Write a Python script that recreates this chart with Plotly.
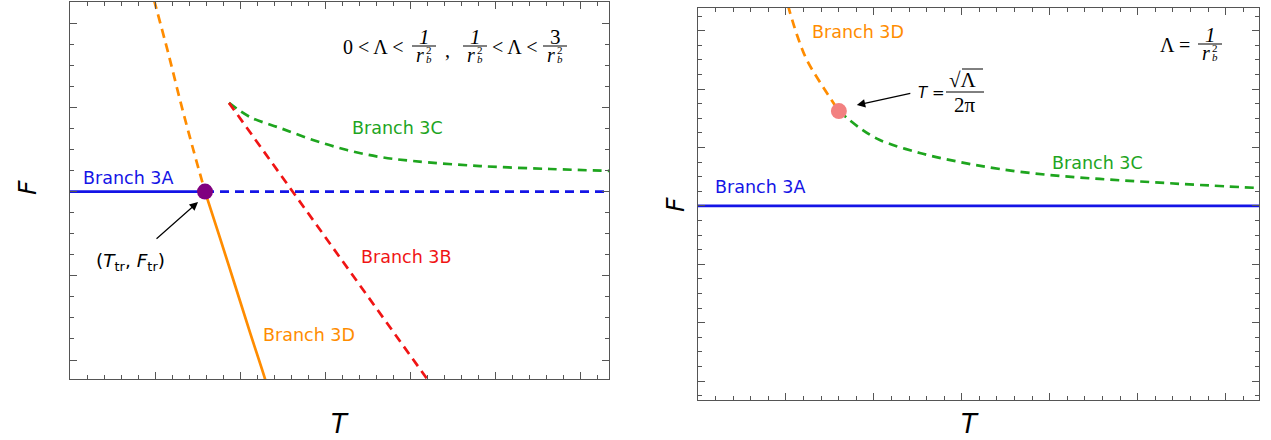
import plotly.graph_objects as go

W, H = 1271, 440

# ---------------- Left panel data ----------------
L_XMAX = 31.7
L_YRANGE = [0.1, 18.0]
T_tr, F_tr = 7.94, 9.0

l3A_solid_T = [0.0, T_tr]
l3A_solid_F = [F_tr, F_tr]
l3A_dash_T = [T_tr, L_XMAX]
l3A_dash_F = [F_tr, F_tr]

l3D_dash_T = [4.94, 5.76, 6.53, 7.24, 7.94]
l3D_dash_F = [18.10, 15.63, 13.16, 11.02, 9.0]
l3D_solid_T = [7.94, 8.82, 9.71, 10.59, 11.47, 11.6]
l3D_solid_F = [9.0, 6.80, 4.54, 2.30, 0.1, -0.3]

l3B_T = [9.35, 13.0, 17.0, 21.0, 21.2]
l3B_F = [13.21, 9.10, 4.60, 0.1, -0.12]

l3C_T = [9.35, 10.59, 12.35, 14.29, 16.29, 18.24, 20.18, 24.12, 28.24, 31.7]
l3C_F = [13.21, 12.54, 12.02, 11.45, 10.97, 10.64, 10.45, 10.21, 10.07, 9.98]

# ---------------- Right panel data ----------------
R_XMAX = 31.9
R_YRANGE = [-0.3, 26.55]
F3A_R = 13.0
T_c, F_c = 8.01, 19.49

r3A_T = [0.0, R_XMAX]
r3A_F = [F3A_R, F3A_R]
r3D_T = [5.11, 5.63, 6.19, 6.93, 8.01]
r3D_F = [26.75, 24.70, 22.99, 21.48, 19.49]
r3C_T = [8.01, 9.20, 10.34, 12.61, 14.89, 17.16, 20.0, 22.84, 25.68, 28.52, 31.9]
r3C_F = [19.49, 18.33, 17.51, 16.62, 16.0, 15.52, 15.11, 14.84, 14.63, 14.43, 14.22]

BLUE = "#1414e6"
ORANGE = "#ff8c00"
GREEN = "#1ea51e"
RED = "#f01414"
DASH = "9px,6px"
LW = 2.7

fig = go.Figure()

def line(T, F, color, dash=None, xa="x", ya="y", shape="linear"):
    fig.add_trace(go.Scatter(x=T, y=F, mode="lines", xaxis=xa, yaxis=ya,
                             line=dict(color=color, width=LW, dash=dash or "solid", shape=shape),
                             hoverinfo="skip", showlegend=False))

# left
line(l3A_solid_T, l3A_solid_F, BLUE)
line(l3A_dash_T, l3A_dash_F, BLUE, DASH)
line(l3C_T, l3C_F, GREEN, DASH, shape="spline")
line(l3B_T, l3B_F, RED, DASH)
line(l3D_dash_T, l3D_dash_F, ORANGE, DASH, shape="spline")
line(l3D_solid_T, l3D_solid_F, ORANGE, shape="spline")
fig.add_trace(go.Scatter(x=[T_tr], y=[F_tr], mode="markers", marker=dict(color="#800080", size=16),
                         showlegend=False, hoverinfo="skip"))

# right
line(r3A_T, r3A_F, BLUE, xa="x2", ya="y2")
line(r3D_T, r3D_F, ORANGE, DASH, xa="x2", ya="y2", shape="spline")
line(r3C_T, r3C_F, GREEN, DASH, xa="x2", ya="y2", shape="spline")
fig.add_trace(go.Scatter(x=[T_c], y=[F_c], mode="markers", marker=dict(color="#f28080", size=16),
                         xaxis="x2", yaxis="y2", showlegend=False, hoverinfo="skip"))

AX = "#555555"
def axis(domain, rng, dtick, tick0, anchor):
    return dict(domain=domain, range=rng, anchor=anchor, showgrid=False, zeroline=False,
                showline=True, linecolor=AX, linewidth=1, mirror="ticks",
                ticks="inside", ticklen=7, tickcolor=AX, tickwidth=1,
                dtick=dtick, tick0=tick0, showticklabels=False,
                minor=dict(dtick=1, tick0=0, ticks="inside", ticklen=4, tickcolor=AX, tickwidth=1, showgrid=False))

fig.update_layout(
    width=W, height=H, margin=dict(l=0, r=0, t=0, b=0),
    paper_bgcolor="white", plot_bgcolor="white", showlegend=False,
    xaxis=axis([70 / W, 609 / W], [0, L_XMAX], 5, 0, "y"),
    yaxis=axis([1 - 379 / H, 1 - 2 / H], L_YRANGE, 4, 1, "x"),
    xaxis2=axis([698 / W, 1259 / W], [0, R_XMAX], 5, 0, "y2"),
    yaxis2=axis([1 - 400 / H, 1 - 8 / H], R_YRANGE, 4, 1, "x2"),
)

anns = []
shapes = []
SANS = "DejaVu Sans"
SERIF = "Liberation Serif"

def label(text, T, F, color, xa, ya, size=17.5):
    anns.append(dict(text=text, x=T, y=F, xref=xa, yref=ya, showarrow=False,
                     font=dict(family=SANS, size=size, color=color)))

label("Branch 3A", 3.41, 9.64, BLUE, "x", "y")
label("Branch 3C", 19.24, 12.02, GREEN, "x", "y")
label("Branch 3B", 19.76, 5.89, RED, "x", "y")
label("Branch 3D", 14.06, 2.19, ORANGE, "x", "y")
label("(<i>T</i><sub>tr</sub>, <i>F</i><sub>tr</sub>)", 3.53, 5.66, "black", "x", "y", 18.5)
anns.append(dict(text="", x=7.53, y=8.50, xref="x", yref="y", ax=-43, ay=38,
                 showarrow=True, arrowhead=2, arrowsize=1.4, arrowwidth=1.2, arrowcolor="black"))

label("Branch 3D", 9.09, 24.91, ORANGE, "x2", "y2")
label("Branch 3C", 22.73, 15.93, GREEN, "x2", "y2")
label("Branch 3A", 3.52, 14.29, BLUE, "x2", "y2")
anns.append(dict(text="", x=9.03, y=19.9, xref="x2", yref="y2", ax=55, ay=-12,
                 showarrow=True, arrowhead=2, arrowsize=1.4, arrowwidth=1.2, arrowcolor="black"))

# pixel-positioned text helpers (formulas, axis titles)
def ptext(text, px, py, size, family=SERIF, xanchor="center", angle=0):
    anns.append(dict(text=text, x=px / W, y=1 - py / H, xref="paper", yref="paper",
                     showarrow=False, xanchor=xanchor, yanchor="middle", textangle=angle,
                     borderpad=0,
                     font=dict(family=family, size=size, color="black")))

def pline(x0, y0, x1, y1):
    shapes.append(dict(type="line", xref="paper", yref="paper", x0=x0 / W, x1=x1 / W,
                       y0=1 - y0 / H, y1=1 - y1 / H, line=dict(color="black", width=1)))

def frac_rb2(num, cx, ybar, half=12):
    pline(cx - half, ybar, cx + half, ybar)
    ptext(num, cx, ybar - 9, 21)
    ptext("<i>r</i>", cx - 4, ybar + 9, 20)
    ptext("2", cx + 5, ybar + 4, 11)
    ptext("<i>b</i>", cx + 5, ybar + 13, 11)

# left formula
ptext("0 < Λ <", 342, 47, 20, xanchor="left")
frac_rb2("<i>1</i>", 424, 46)
ptext(",", 447, 50, 20)
frac_rb2("<i>1</i>", 475, 46)
ptext("< Λ <", 514, 47, 20)
frac_rb2("3", 555, 46)

# right formula
ptext("Λ =", 1175, 45, 20)
frac_rb2("<i>1</i>", 1210, 44)

ptext("<i>T</i> =", 931, 93, 15, family=SANS)
pline(946, 92, 984, 92)
ptext("√Λ", 963, 80, 21)
pline(962, 69, 983, 69)
ptext("2π", 965, 105, 21)

# axis titles
ptext("<i>T</i>", 340, 424, 26, family=SANS)
ptext("<i>T</i>", 970, 424, 26, family=SANS)
ptext("<i>F</i>", 27, 188, 25, family=SANS, angle=-90)
ptext("<i>F</i>", 676, 205, 25, family=SANS, angle=-90)

fig.update_layout(annotations=anns, shapes=shapes)
fig.write_html("out.html")
